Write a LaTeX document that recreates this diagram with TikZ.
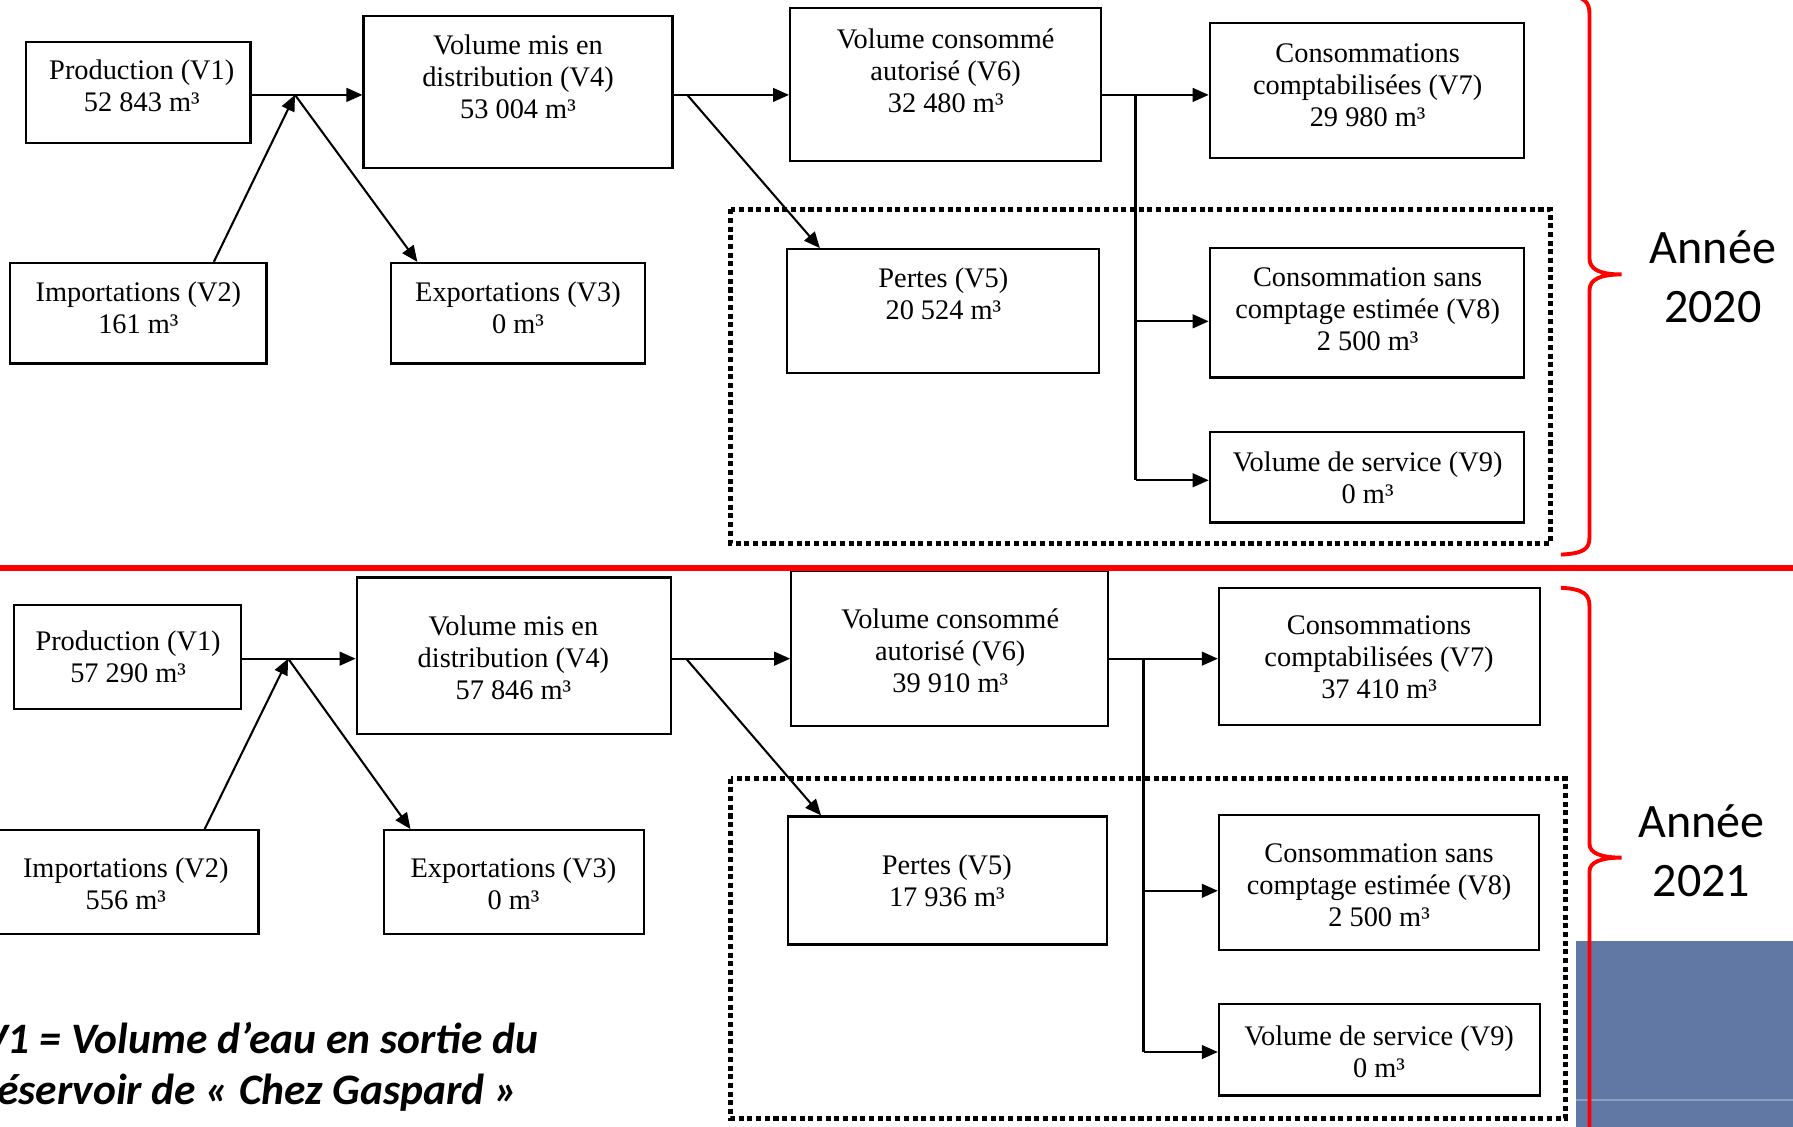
\documentclass[tikz,border=0pt]{standalone}
\usepackage{fontspec}
\setmainfont{Liberation Serif}
\newfontfamily\labfont{Carlito}
\usetikzlibrary{arrows.meta,fit,calc}
\definecolor{slateblue}{RGB}{97,120,164}
\definecolor{slateline}{RGB}{140,160,196}
\begin{document}
\begin{tikzpicture}[x=0.5pt,y=-0.5pt,
  box/.style={draw, line width=1pt, inner sep=0pt, rectangle},
  txt/.style={align=center, font=\fontsize{12.4}{14}\selectfont, inner sep=0pt},
  arr/.style={line width=0.9pt, -{Triangle[length=7pt,width=6pt]}},
  ln/.style={line width=0.9pt},
  dotbox/.style={draw, line width=2.3pt, dash pattern=on 2.2pt off 1.6pt},
  redbrace/.style={draw=red, line width=1.7pt},
  year/.style={font=\labfont\fontsize{21}{26}\selectfont, align=center, inner sep=0pt},
  note/.style={font=\labfont\bfseries\itshape\fontsize{19}{22}\selectfont, align=left, inner sep=0pt, anchor=west}
]
\useasboundingbox (0,0) rectangle (1568,985);
\begin{scope}
\clip (0,0) rectangle (1568,985);

% blue patch
\fill[slateblue] (1378,823) rectangle (1570,990);
\draw[slateline, line width=0.6pt] (1378,962) -- (1570,962);

% ================= 2020 =================
\draw[dotbox] (639,183) rectangle (1356,475);

\node[box, fit={(23,37) (219,125)}] (a1) {};
\node[box, fit={(318,14) (588,147)}] (a4) {};
\node[box, fit={(691,7) (963,141)}] (a6) {};
\node[box, fit={(1058,20) (1333,138)}] (a7) {};
\node[box, fit={(9,230) (233,318)}] (a2) {};
\node[box, fit={(342,230) (564,318)}] (a3) {};
\node[box, fit={(688,218) (961,326)}] (a5) {};
\node[box, fit={(1058,217) (1333,330)}] (a8) {};
\node[box, fit={(1058,378) (1333,457)}] (a9) {};

\node[txt] (a1t) at (124,75) {Production (V1)\\52 843 m³};
\node[txt] (a4t) at (453,67) {Volume mis en\\distribution (V4)\\53 004 m³};
\node[txt] (a6t) at (827,61.5) {Volume consommé\\autorisé (V6)\\32 480 m³};
\node[txt] (a7t) at (1196,74.5) {Consommations\\comptabilisées (V7)\\29 980 m³};
\node[txt] (a2t) at (121,269) {Importations (V2)\\161 m³};
\node[txt] (a3t) at (453,269) {Exportations (V3)\\0 m³};
\node[txt] (a5t) at (825,257) {Pertes (V5)\\20 524 m³};
\node[txt] (a8t) at (1196,270.5) {Consommation sans\\comptage estimée (V8)\\2 500 m³};
\node[txt] (a9t) at (1196,418) {Volume de service (V9)\\0 m³};

\coordinate (ja) at (258,83);
\coordinate (jb) at (601,83);
\coordinate (jc) at (993,83);
\coordinate (jd) at (993,281);
\coordinate (je) at (993,420);

\draw[arr] (a1.east |- ja) -- (a4.west |- ja);
\draw[arr] ($(a2.north east)+(-47,0)$) -- (ja);
\draw[arr] (ja) -- ($(a3.north west)+(24,0)$);
\draw[arr] (a4.east |- jb) -- (a6.west |- jb);
\draw[arr] (jb) -- ($(a5.north west)+(30,0)$);
\draw[arr] (a6.east |- jc) -- (a7.west |- jc);
\draw[ln] (jc) -- (je);
\draw[arr] (jd) -- (a8.west |- jd);
\draw[arr] (je) -- (a9.west |- je);

\draw[redbrace] (1368,-5) .. controls (1386,-3) and (1390,2) .. (1390,12)
  -- (1390,226) .. controls (1390,236) and (1400,240) .. (1418,240)
  .. controls (1400,240) and (1390,244) .. (1390,254)
  -- (1390,470) .. controls (1390,480) and (1385,484) .. (1365,485);

\node[year] (y20) at (1498,242) {Année\\2020};

% ================= 2021 =================
\draw[dotbox] (639,681) rectangle (1369,978);

\node[box, fit={(12,529) (211,620)}] (b1) {};
\node[box, fit={(312,505) (587,642)}] (b4) {};
\node[box, fit={(692,499) (969,635)}] (b6) {};
\node[box, fit={(1066,514) (1347,634)}] (b7) {};
\node[box, fit={(-12,726) (226,817)}] (b2) {};
\node[box, fit={(336,726) (563,817)}] (b3) {};
\node[box, fit={(689,714) (968,826)}] (b5) {};
\node[box, fit={(1066,713) (1346,831)}] (b8) {};
\node[box, fit={(1066,878) (1347,958)}] (b9) {};

\node[txt] (b1t) at (112,574.5) {Production (V1)\\57 290 m³};
\node[txt] (b4t) at (449,575) {Volume mis en\\distribution (V4)\\57 846 m³};
\node[txt] (b6t) at (831,569) {Volume consommé\\autorisé (V6)\\39 910 m³};
\node[txt] (b7t) at (1206,575) {Consommations\\comptabilisées (V7)\\37 410 m³};
\node[txt] (b2t) at (110,772.5) {Importations (V2)\\556 m³};
\node[txt] (b3t) at (449,772.5) {Exportations (V3)\\0 m³};
\node[txt] (b5t) at (828,770.5) {Pertes (V5)\\17 936 m³};
\node[txt] (b8t) at (1206,774) {Consommation sans\\comptage estimée (V8)\\2 500 m³};
\node[txt] (b9t) at (1206,919.5) {Volume de service (V9)\\0 m³};

\coordinate (ka) at (252,576);
\coordinate (kb) at (600,576);
\coordinate (kc) at (1000,576);
\coordinate (kd) at (1000,779);
\coordinate (ke) at (1000,920);

\draw[arr] (b1.east |- ka) -- (b4.west |- ka);
\draw[arr] ($(b2.north east)+(-48,0)$) -- (ka);
\draw[arr] (ka) -- ($(b3.north west)+(24,0)$);
\draw[arr] (b4.east |- kb) -- (b6.west |- kb);
\draw[arr] (kb) -- ($(b5.north west)+(30,0)$);
\draw[arr] (b6.east |- kc) -- (b7.west |- kc);
\draw[ln] (kc) -- (ke);
\draw[arr] (kd) -- (b8.west |- kd);
\draw[arr] (ke) -- (b9.west |- ke);

\draw[redbrace] (1365,514) .. controls (1385,515) and (1390,520) .. (1390,530)
  -- (1390,738) .. controls (1390,746) and (1400,750) .. (1418,750)
  .. controls (1400,750) and (1390,754) .. (1390,762)
  -- (1390,995);

\node[year] (y21) at (1488,744) {Année\\2021};

\node[note] (nt) at (-16,933) {V1 = Volume d’eau en sortie du\\réservoir de « Chez Gaspard »};

% red separator
\draw[red, line width=2.5pt] (-5,497) -- (1575,497);
\end{scope}
\end{tikzpicture}
\end{document}
